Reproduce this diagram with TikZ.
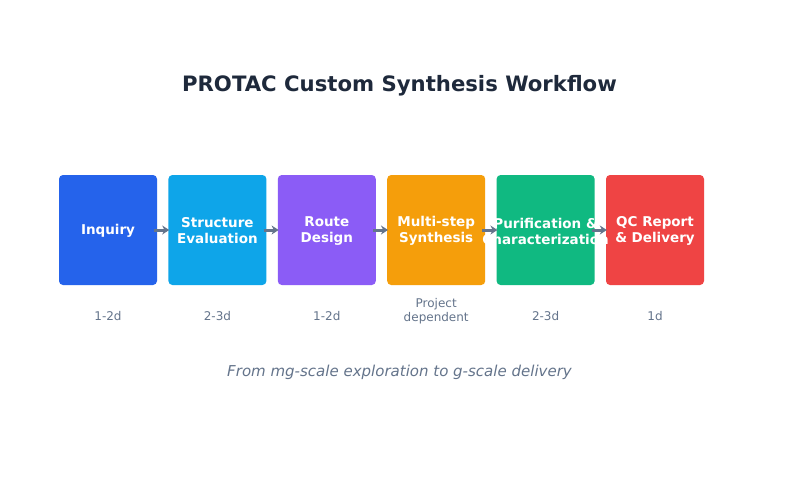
\documentclass[tikz,border=0pt]{standalone}
\usepackage{fontspec}
\setmainfont{DejaVu Sans}
\usepackage{tikz}
\usetikzlibrary{arrows.meta,positioning,calc}
\definecolor{titlenavy}{RGB}{30,41,59}
\definecolor{slategray}{RGB}{100,116,139}
\definecolor{stepblue}{RGB}{37,99,235}
\definecolor{stepsky}{RGB}{14,165,233}
\definecolor{steppurple}{RGB}{139,92,246}
\definecolor{steporange}{RGB}{245,158,11}
\definecolor{stepgreen}{RGB}{16,185,129}
\definecolor{stepred}{RGB}{239,68,68}

\tikzset{
    stepbox/.style={rounded corners=4pt, minimum width=98pt, minimum height=110pt,
        inner sep=0pt, align=center, text=white, font=\fontsize{13.5pt}{16pt}\selectfont\bfseries},
    steptext/.style={align=center, text=white, inner sep=0pt, font=\fontsize{13.5pt}{16pt}\selectfont\bfseries},
    timelabel/.style={align=center, text=slategray, font=\fontsize{12pt}{14pt}\selectfont},
    flowarrow/.style={-{Stealth[length=7pt,width=9pt]}, draw=slategray, line width=3pt}
}

\begin{document}
\begin{tikzpicture}
            \useasboundingbox[fill=white] (0pt,0pt) rectangle (799pt,-477pt);

            % title
            \node[text=titlenavy, font=\fontsize{21.2pt}{25pt}\selectfont\bfseries] (title) at (399.5pt,-86pt) {PROTAC Custom Synthesis Workflow};

            % workflow steps
            \node[stepbox, fill=stepblue] (inquiry) at (108pt,-230pt) {};
            \node[stepbox, fill=stepsky, right=11pt of inquiry] (structure) {};
            \node[stepbox, fill=steppurple, right=11pt of structure] (route) {};
            \node[stepbox, fill=steporange, right=11pt of route] (synthesis) {};
            \node[stepbox, fill=stepgreen, right=11pt of synthesis] (purification) {};
            \node[stepbox, fill=stepred, right=11pt of purification] (delivery) {};

            % step labels
            \node[steptext] (inquirytext) at ($(inquiry.center)+(0,-0.5pt)$) {Inquiry};
            \node[steptext] (structuretext) at ($(structure.center)+(0,-1pt)$) {Structure\\Evaluation};
            \node[steptext] (routetext) at ($(route.center)+(0,-1pt)$) {Route\\Design};
            \node[steptext] (synthesistext) at ($(synthesis.center)+(0,-1pt)$) {Multi-step\\Synthesis};
            \node[steptext] (purificationtext) at ($(purification.center)+(0,-1pt)$) {Purification \&\\Characterization};
            \node[steptext] (deliverytext) at ($(delivery.center)+(0,-1pt)$) {QC Report\\\& Delivery};

            % arrows
            \draw[flowarrow] ($(inquiry.east)+(-3pt,0)$) -- ($(structure.west)+(1pt,0)$);
            \draw[flowarrow] ($(structure.east)+(-3pt,0)$) -- ($(route.west)+(1pt,0)$);
            \draw[flowarrow] ($(route.east)+(-3pt,0)$) -- ($(synthesis.west)+(1pt,0)$);
            \draw[flowarrow] ($(synthesis.east)+(-3pt,0)$) -- ($(purification.west)+(1pt,0)$);
            \draw[flowarrow] ($(purification.east)+(-3pt,0)$) -- ($(delivery.west)+(1pt,0)$);

            % durations
            \node[timelabel] (t1) at (inquiry.center |- 0,-316pt) {1-2d};
            \node[timelabel] (t2) at (structure.center |- 0,-316pt) {2-3d};
            \node[timelabel] (t3) at (route.center |- 0,-316pt) {1-2d};
            \node[timelabel] (t4) at (synthesis.center |- 0,-311pt) {Project\\dependent};
            \node[timelabel] (t5) at (purification.center |- 0,-316pt) {2-3d};
            \node[timelabel] (t6) at (delivery.center |- 0,-316pt) {1d};

            % caption
            \node[text=slategray, font=\fontsize{15pt}{18pt}\selectfont\itshape] (caption) at (399.5pt,-372pt) {From mg-scale exploration to g-scale delivery};
        \end{tikzpicture}
\end{document}
